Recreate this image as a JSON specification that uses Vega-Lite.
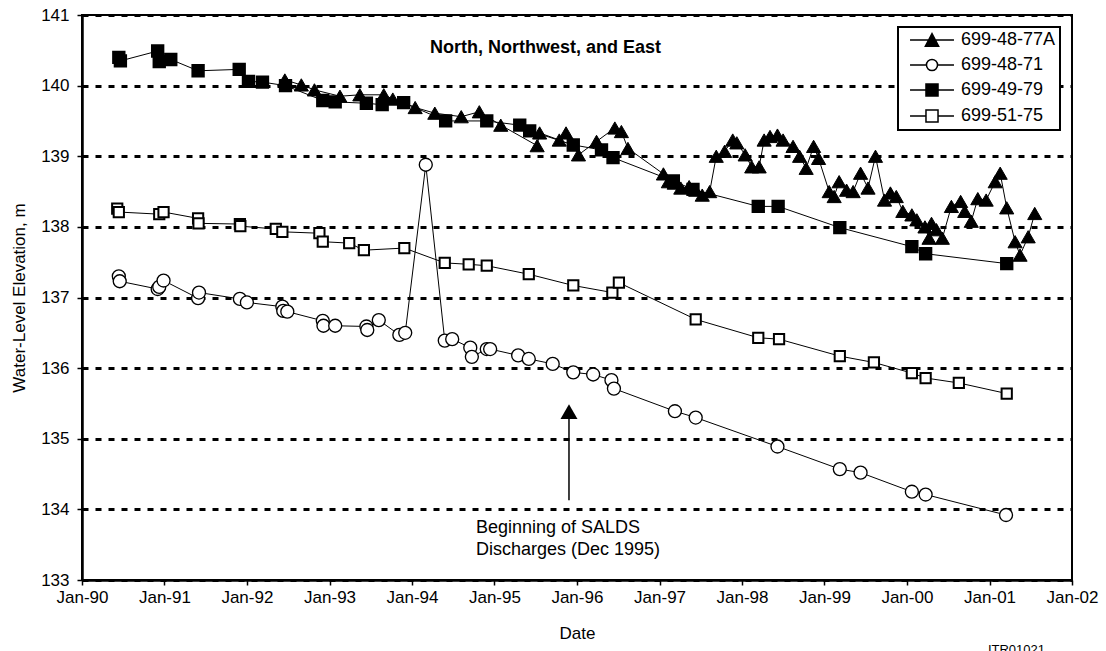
{
  "$schema": "https://vega.github.io/schema/vega-lite/v6.json",
  "width": 990,
  "height": 565,
  "autosize": {"type": "none"},
  "padding": {"left": 82, "top": 15, "right": 34, "bottom": 71},
  "background": "white",
  "title": {"text": "ITR01021", "orient": "bottom", "anchor": "end", "fontSize": 13, "fontWeight": "normal", "font": "Liberation Sans", "color": "black", "offset": 3, "dx": -53},
  "config": {
    "font": "Liberation Sans",
    "view": {"stroke": "black", "strokeWidth": 2},
    "legend": {"strokeWidth": 2},
    "axis": {"labelColor": "black", "titleColor": "black", "labelFont": "Liberation Sans", "titleFont": "Liberation Sans", "titleFontWeight": "normal", "labelFontSize": 17, "titleFontSize": 17, "domainColor": "black", "domainWidth": 2.5, "tickColor": "black", "tickWidth": 1.5, "tickSize": 5}
  },
  "resolve": {"scale": {"shape": "independent", "fill": "independent"}},
  "datasets": {
    "wells": [
      {"well": "699-48-77A", "date": "1992-06-17", "elev": 140.08},
      {"well": "699-48-77A", "date": "1992-08-29", "elev": 140.01},
      {"well": "699-48-77A", "date": "1992-10-26", "elev": 139.94},
      {"well": "699-48-77A", "date": "1993-02-16", "elev": 139.85},
      {"well": "699-48-77A", "date": "1993-05-15", "elev": 139.87},
      {"well": "699-48-77A", "date": "1993-08-29", "elev": 139.87},
      {"well": "699-48-77A", "date": "1993-10-08", "elev": 139.81},
      {"well": "699-48-77A", "date": "1994-01-15", "elev": 139.69},
      {"well": "699-48-77A", "date": "1994-04-12", "elev": 139.61},
      {"well": "699-48-77A", "date": "1994-08-07", "elev": 139.56},
      {"well": "699-48-77A", "date": "1994-10-26", "elev": 139.63},
      {"well": "699-48-77A", "date": "1995-01-29", "elev": 139.44},
      {"well": "699-48-77A", "date": "1995-07-09", "elev": 139.15},
      {"well": "699-48-77A", "date": "1995-07-20", "elev": 139.33},
      {"well": "699-48-77A", "date": "1995-10-15", "elev": 139.23},
      {"well": "699-48-77A", "date": "1995-11-14", "elev": 139.33},
      {"well": "699-48-77A", "date": "1996-01-08", "elev": 139.02},
      {"well": "699-48-77A", "date": "1996-03-28", "elev": 139.21},
      {"well": "699-48-77A", "date": "1996-06-17", "elev": 139.40},
      {"well": "699-48-77A", "date": "1996-07-16", "elev": 139.35},
      {"well": "699-48-77A", "date": "1996-08-14", "elev": 139.11},
      {"well": "699-48-77A", "date": "1997-01-18", "elev": 138.75},
      {"well": "699-48-77A", "date": "1997-02-09", "elev": 138.64},
      {"well": "699-48-77A", "date": "1997-03-07", "elev": 138.62},
      {"well": "699-48-77A", "date": "1997-04-05", "elev": 138.55},
      {"well": "699-48-77A", "date": "1997-05-12", "elev": 138.57},
      {"well": "699-48-77A", "date": "1997-06-10", "elev": 138.52},
      {"well": "699-48-77A", "date": "1997-07-09", "elev": 138.45},
      {"well": "699-48-77A", "date": "1997-08-11", "elev": 138.50},
      {"well": "699-48-77A", "date": "1997-09-09", "elev": 139.00},
      {"well": "699-48-77A", "date": "1997-10-16", "elev": 139.07},
      {"well": "699-48-77A", "date": "1997-11-21", "elev": 139.23},
      {"well": "699-48-77A", "date": "1997-12-09", "elev": 139.19},
      {"well": "699-48-77A", "date": "1998-01-15", "elev": 139.02},
      {"well": "699-48-77A", "date": "1998-02-13", "elev": 138.85},
      {"well": "699-48-77A", "date": "1998-03-18", "elev": 138.85},
      {"well": "699-48-77A", "date": "1998-04-09", "elev": 139.23},
      {"well": "699-48-77A", "date": "1998-05-05", "elev": 139.28},
      {"well": "699-48-77A", "date": "1998-06-07", "elev": 139.30},
      {"well": "699-48-77A", "date": "1998-07-02", "elev": 139.23},
      {"well": "699-48-77A", "date": "1998-08-15", "elev": 139.14},
      {"well": "699-48-77A", "date": "1998-09-13", "elev": 139.00},
      {"well": "699-48-77A", "date": "1998-10-12", "elev": 138.83},
      {"well": "699-48-77A", "date": "1998-11-14", "elev": 139.14},
      {"well": "699-48-77A", "date": "1998-12-06", "elev": 138.97},
      {"well": "699-48-77A", "date": "1999-01-22", "elev": 138.50},
      {"well": "699-48-77A", "date": "1999-02-13", "elev": 138.43},
      {"well": "699-48-77A", "date": "1999-03-07", "elev": 138.64},
      {"well": "699-48-77A", "date": "1999-04-09", "elev": 138.52},
      {"well": "699-48-77A", "date": "1999-05-08", "elev": 138.50},
      {"well": "699-48-77A", "date": "1999-06-10", "elev": 138.76},
      {"well": "699-48-77A", "date": "1999-07-13", "elev": 138.55},
      {"well": "699-48-77A", "date": "1999-08-15", "elev": 139.00},
      {"well": "699-48-77A", "date": "1999-09-24", "elev": 138.38},
      {"well": "699-48-77A", "date": "1999-10-20", "elev": 138.48},
      {"well": "699-48-77A", "date": "1999-11-15", "elev": 138.43},
      {"well": "699-48-77A", "date": "1999-12-14", "elev": 138.22},
      {"well": "699-48-77A", "date": "2000-01-23", "elev": 138.17},
      {"well": "699-48-77A", "date": "2000-02-14", "elev": 138.10},
      {"well": "699-48-77A", "date": "2000-03-21", "elev": 138.00},
      {"well": "699-48-77A", "date": "2000-04-08", "elev": 137.84},
      {"well": "699-48-77A", "date": "2000-04-19", "elev": 138.05},
      {"well": "699-48-77A", "date": "2000-05-11", "elev": 137.96},
      {"well": "699-48-77A", "date": "2000-06-06", "elev": 137.84},
      {"well": "699-48-77A", "date": "2000-07-16", "elev": 138.29},
      {"well": "699-48-77A", "date": "2000-08-26", "elev": 138.36},
      {"well": "699-48-77A", "date": "2000-09-13", "elev": 138.22},
      {"well": "699-48-77A", "date": "2000-10-12", "elev": 138.08},
      {"well": "699-48-77A", "date": "2000-11-10", "elev": 138.40},
      {"well": "699-48-77A", "date": "2000-12-17", "elev": 138.38},
      {"well": "699-48-77A", "date": "2001-01-26", "elev": 138.64},
      {"well": "699-48-77A", "date": "2001-02-17", "elev": 138.76},
      {"well": "699-48-77A", "date": "2001-03-18", "elev": 138.27},
      {"well": "699-48-77A", "date": "2001-04-24", "elev": 137.79},
      {"well": "699-48-77A", "date": "2001-05-16", "elev": 137.60},
      {"well": "699-48-77A", "date": "2001-06-21", "elev": 137.86},
      {"well": "699-48-77A", "date": "2001-07-20", "elev": 138.19},

      {"well": "699-48-71", "date": "1990-06-13", "elev": 137.30},
      {"well": "699-48-71", "date": "1990-06-17", "elev": 137.23},
      {"well": "699-48-71", "date": "1990-12-02", "elev": 137.12},
      {"well": "699-48-71", "date": "1990-12-09", "elev": 137.15},
      {"well": "699-48-71", "date": "1990-12-28", "elev": 137.24},
      {"well": "699-48-71", "date": "1991-05-30", "elev": 136.99},
      {"well": "699-48-71", "date": "1991-06-03", "elev": 137.07},
      {"well": "699-48-71", "date": "1991-12-01", "elev": 136.98},
      {"well": "699-48-71", "date": "1992-01-01", "elev": 136.93},
      {"well": "699-48-71", "date": "1992-06-06", "elev": 136.87},
      {"well": "699-48-71", "date": "1992-06-10", "elev": 136.81},
      {"well": "699-48-71", "date": "1992-06-28", "elev": 136.80},
      {"well": "699-48-71", "date": "1992-12-02", "elev": 136.67},
      {"well": "699-48-71", "date": "1992-12-05", "elev": 136.60},
      {"well": "699-48-71", "date": "1993-01-26", "elev": 136.60},
      {"well": "699-48-71", "date": "1993-06-13", "elev": 136.59},
      {"well": "699-48-71", "date": "1993-06-17", "elev": 136.54},
      {"well": "699-48-71", "date": "1993-08-07", "elev": 136.68},
      {"well": "699-48-71", "date": "1993-11-06", "elev": 136.47},
      {"well": "699-48-71", "date": "1993-12-02", "elev": 136.50},
      {"well": "699-48-71", "date": "1994-03-03", "elev": 138.88},
      {"well": "699-48-71", "date": "1994-05-26", "elev": 136.39},
      {"well": "699-48-71", "date": "1994-06-28", "elev": 136.41},
      {"well": "699-48-71", "date": "1994-09-16", "elev": 136.29},
      {"well": "699-48-71", "date": "1994-09-23", "elev": 136.16},
      {"well": "699-48-71", "date": "1994-11-28", "elev": 136.27},
      {"well": "699-48-71", "date": "1994-12-13", "elev": 136.27},
      {"well": "699-48-71", "date": "1995-04-16", "elev": 136.18},
      {"well": "699-48-71", "date": "1995-06-02", "elev": 136.13},
      {"well": "699-48-71", "date": "1995-09-16", "elev": 136.06},
      {"well": "699-48-71", "date": "1995-12-16", "elev": 135.94},
      {"well": "699-48-71", "date": "1996-03-13", "elev": 135.91},
      {"well": "699-48-71", "date": "1996-06-02", "elev": 135.83},
      {"well": "699-48-71", "date": "1996-06-13", "elev": 135.71},
      {"well": "699-48-71", "date": "1997-03-10", "elev": 135.39},
      {"well": "699-48-71", "date": "1997-06-10", "elev": 135.30},
      {"well": "699-48-71", "date": "1998-06-07", "elev": 134.89},
      {"well": "699-48-71", "date": "1999-03-10", "elev": 134.57},
      {"well": "699-48-71", "date": "1999-06-10", "elev": 134.52},
      {"well": "699-48-71", "date": "2000-01-23", "elev": 134.25},
      {"well": "699-48-71", "date": "2000-03-24", "elev": 134.21},
      {"well": "699-48-71", "date": "2001-03-15", "elev": 133.92},

      {"well": "699-49-79", "date": "1990-06-13", "elev": 140.40},
      {"well": "699-49-79", "date": "1990-06-20", "elev": 140.35},
      {"well": "699-49-79", "date": "1990-12-02", "elev": 140.49},
      {"well": "699-49-79", "date": "1990-12-09", "elev": 140.34},
      {"well": "699-49-79", "date": "1991-01-29", "elev": 140.37},
      {"well": "699-49-79", "date": "1991-05-30", "elev": 140.21},
      {"well": "699-49-79", "date": "1991-11-28", "elev": 140.23},
      {"well": "699-49-79", "date": "1992-01-08", "elev": 140.06},
      {"well": "699-49-79", "date": "1992-03-10", "elev": 140.05},
      {"well": "699-49-79", "date": "1992-06-20", "elev": 140.00},
      {"well": "699-49-79", "date": "1992-12-02", "elev": 139.79},
      {"well": "699-49-79", "date": "1993-01-26", "elev": 139.77},
      {"well": "699-49-79", "date": "1993-06-13", "elev": 139.75},
      {"well": "699-49-79", "date": "1993-08-22", "elev": 139.73},
      {"well": "699-49-79", "date": "1993-11-25", "elev": 139.76},
      {"well": "699-49-79", "date": "1994-05-30", "elev": 139.50},
      {"well": "699-49-79", "date": "1994-11-28", "elev": 139.50},
      {"well": "699-49-79", "date": "1995-04-23", "elev": 139.44},
      {"well": "699-49-79", "date": "1995-06-06", "elev": 139.36},
      {"well": "699-49-79", "date": "1995-12-16", "elev": 139.16},
      {"well": "699-49-79", "date": "1996-04-19", "elev": 139.09},
      {"well": "699-49-79", "date": "1996-06-09", "elev": 138.98},
      {"well": "699-49-79", "date": "1997-03-03", "elev": 138.65},
      {"well": "699-49-79", "date": "1997-05-29", "elev": 138.53},
      {"well": "699-49-79", "date": "1998-03-14", "elev": 138.29},
      {"well": "699-49-79", "date": "1998-06-10", "elev": 138.29},
      {"well": "699-49-79", "date": "1999-03-10", "elev": 137.99},
      {"well": "699-49-79", "date": "2000-01-23", "elev": 137.72},
      {"well": "699-49-79", "date": "2000-03-24", "elev": 137.62},
      {"well": "699-49-79", "date": "2001-03-18", "elev": 137.48},

      {"well": "699-51-75", "date": "1990-06-06", "elev": 138.26},
      {"well": "699-51-75", "date": "1990-06-13", "elev": 138.21},
      {"well": "699-51-75", "date": "1990-12-09", "elev": 138.18},
      {"well": "699-51-75", "date": "1990-12-28", "elev": 138.21},
      {"well": "699-51-75", "date": "1991-05-30", "elev": 138.12},
      {"well": "699-51-75", "date": "1991-06-01", "elev": 138.05},
      {"well": "699-51-75", "date": "1991-12-01", "elev": 138.04},
      {"well": "699-51-75", "date": "1991-12-03", "elev": 138.01},
      {"well": "699-51-75", "date": "1992-05-08", "elev": 137.97},
      {"well": "699-51-75", "date": "1992-06-06", "elev": 137.93},
      {"well": "699-51-75", "date": "1992-11-17", "elev": 137.91},
      {"well": "699-51-75", "date": "1992-12-02", "elev": 137.79},
      {"well": "699-51-75", "date": "1993-03-29", "elev": 137.77},
      {"well": "699-51-75", "date": "1993-06-02", "elev": 137.67},
      {"well": "699-51-75", "date": "1993-11-28", "elev": 137.70},
      {"well": "699-51-75", "date": "1994-05-26", "elev": 137.49},
      {"well": "699-51-75", "date": "1994-09-09", "elev": 137.47},
      {"well": "699-51-75", "date": "1994-11-28", "elev": 137.45},
      {"well": "699-51-75", "date": "1995-06-02", "elev": 137.33},
      {"well": "699-51-75", "date": "1995-12-16", "elev": 137.17},
      {"well": "699-51-75", "date": "1996-06-06", "elev": 137.07},
      {"well": "699-51-75", "date": "1996-07-05", "elev": 137.21},
      {"well": "699-51-75", "date": "1997-06-10", "elev": 136.69},
      {"well": "699-51-75", "date": "1998-03-14", "elev": 136.43},
      {"well": "699-51-75", "date": "1998-06-14", "elev": 136.41},
      {"well": "699-51-75", "date": "1999-03-10", "elev": 136.17},
      {"well": "699-51-75", "date": "1999-08-08", "elev": 136.08},
      {"well": "699-51-75", "date": "2000-01-23", "elev": 135.93},
      {"well": "699-51-75", "date": "2000-03-24", "elev": 135.86},
      {"well": "699-51-75", "date": "2000-08-18", "elev": 135.79},
      {"well": "699-51-75", "date": "2001-03-18", "elev": 135.64}
    ]
  },
  "layer": [
    {
      "data": {"name": "wells"},
      "mark": {"type": "line", "color": "black", "strokeWidth": 1},
      "encoding": {
        "x": {
          "field": "date", "type": "temporal",
          "scale": {"type": "utc", "domain": [{"year": 1990, "month": 1, "date": 1, "utc": true}, {"year": 2002, "month": 1, "date": 1, "utc": true}]},
          "axis": {
            "title": "Date", "labelExpr": "utcFormat(datum.value, '%b-%y')", "grid": false,
            "values": [
              {"year": 1990, "month": 1, "date": 1, "utc": true},
              {"year": 1991, "month": 1, "date": 1, "utc": true},
              {"year": 1992, "month": 1, "date": 1, "utc": true},
              {"year": 1993, "month": 1, "date": 1, "utc": true},
              {"year": 1994, "month": 1, "date": 1, "utc": true},
              {"year": 1995, "month": 1, "date": 1, "utc": true},
              {"year": 1996, "month": 1, "date": 1, "utc": true},
              {"year": 1997, "month": 1, "date": 1, "utc": true},
              {"year": 1998, "month": 1, "date": 1, "utc": true},
              {"year": 1999, "month": 1, "date": 1, "utc": true},
              {"year": 2000, "month": 1, "date": 1, "utc": true},
              {"year": 2001, "month": 1, "date": 1, "utc": true},
              {"year": 2002, "month": 1, "date": 1, "utc": true}
            ],
            "labelPadding": 4, "titlePadding": 20, "labelFlush": false, "labelOverlap": false
          }
        },
        "y": {
          "field": "elev", "type": "quantitative",
          "scale": {"domain": [133, 141], "zero": false, "nice": false},
          "axis": {
            "title": "Water-Level Elevation, m", "values": [133, 134, 135, 136, 137, 138, 139, 140, 141], "format": "d",
            "grid": true, "gridColor": "black", "gridWidth": 3, "gridDash": [6, 7], "gridOpacity": 1,
            "labelPadding": 8, "titlePadding": 12, "labelFlush": false
          }
        },
        "detail": {"field": "well"}
      }
    },
    {
      "data": {"name": "wells"},
      "mark": {"type": "point", "filled": true, "stroke": "black", "opacity": 1},
      "encoding": {
        "x": {"field": "date", "type": "temporal"},
        "y": {"field": "elev", "type": "quantitative"},
        "shape": {
          "field": "well", "type": "nominal",
          "scale": {"domain": ["699-48-77A", "699-48-71", "699-49-79", "699-51-75"], "range": ["triangle-up", "circle", "square", "square"]},
          "legend": null
        },
        "fill": {
          "field": "well", "type": "nominal",
          "scale": {"domain": ["699-48-77A", "699-48-71", "699-49-79", "699-51-75"], "range": ["black", "white", "black", "white"]},
          "legend": null
        },
        "size": {
          "field": "well", "type": "nominal",
          "scale": {"domain": ["699-48-77A", "699-48-71", "699-49-79", "699-51-75"], "range": [200, 105, 135, 100]},
          "legend": null
        },
        "strokeWidth": {
          "field": "well", "type": "nominal",
          "scale": {"domain": ["699-48-77A", "699-48-71", "699-49-79", "699-51-75"], "range": [1, 2, 1, 2]},
          "legend": null
        }
      }
    },
    {
      "data": {"name": "wells"},
      "transform": [{"filter": "false"}],
      "mark": {"type": "point", "filled": false, "stroke": "black", "strokeWidth": 1.5, "opacity": 1},
      "encoding": {
        "x": {"field": "date", "type": "temporal"},
        "y": {"field": "elev", "type": "quantitative"},
        "fill": {
          "field": "well", "type": "nominal",
          "scale": {"domain": ["699-48-77A", "699-48-71", "699-49-79", "699-51-75"], "range": ["black", "white", "black", "white"]},
          "legend": {
            "title": null, "orient": "none", "legendX": 816, "legendY": 12, "padding": 4,
            "strokeColor": "black", "fillColor": "white",
            "labelFontSize": 18, "labelFont": "Liberation Sans", "labelColor": "black",
            "symbolSize": 196, "symbolStrokeWidth": 1.5,
            "symbolOffset": 21, "labelOffset": 20, "rowPadding": 6
          }
        },
        "shape": {
          "field": "well", "type": "nominal",
          "scale": {"domain": ["699-48-77A", "699-48-71", "699-49-79", "699-51-75"], "range": [
            "M-3.14,0H3.14M0,-0.9L0.95,0.9H-0.95Z",
            "M-3.14,0H-0.79M0.79,0H3.14M-0.79,0A0.79 0.79 0 1 0 0.79,0A0.79 0.79 0 1 0 -0.79,0Z",
            "M-3.14,0H3.14M-0.86,-0.86H0.86V0.86H-0.86Z",
            "M-3.14,0H-0.86M0.86,0H3.14M-0.86,-0.86H0.86V0.86H-0.86Z"
          ]},
          "legend": {
            "title": null, "orient": "none", "legendX": 816, "legendY": 12, "padding": 4,
            "strokeColor": "black", "fillColor": "white",
            "labelFontSize": 18, "labelFont": "Liberation Sans", "labelColor": "black",
            "symbolSize": 196, "symbolStrokeWidth": 1.5,
            "symbolOffset": 21, "labelOffset": 20, "rowPadding": 6
          }
        }
      }
    },
    {
      "data": {"values": [{"date": "1995-11-27", "elev": 134.13, "elev2": 135.3}]},
      "mark": {"type": "rule", "color": "black", "strokeWidth": 1.5},
      "encoding": {
        "x": {"field": "date", "type": "temporal"},
        "y": {"field": "elev", "type": "quantitative"},
        "y2": {"field": "elev2"}
      }
    },
    {
      "data": {"values": [{"date": "1995-11-27", "elev": 135.384}]},
      "mark": {"type": "point", "shape": "triangle-up", "filled": true, "color": "black", "size": 289, "opacity": 1},
      "encoding": {
        "x": {"field": "date", "type": "temporal"},
        "y": {"field": "elev", "type": "quantitative"}
      }
    },
    {
      "data": {"values": [{"date": "1994-10-11", "elev": 133.67, "label": "Beginning of SALDS\nDischarges (Dec 1995)"}]},
      "mark": {"type": "text", "align": "left", "baseline": "alphabetic", "fontSize": 18, "font": "Liberation Sans", "color": "black", "lineBreak": "\n", "lineHeight": 22.5},
      "encoding": {
        "x": {"field": "date", "type": "temporal"},
        "y": {"field": "elev", "type": "quantitative"},
        "text": {"field": "label"}
      }
    },
    {
      "data": {"values": [{"date": "1995-08-15", "elev": 140.46, "label": "North, Northwest, and East"}]},
      "mark": {"type": "text", "align": "center", "baseline": "alphabetic", "fontSize": 18, "fontWeight": "bold", "font": "Liberation Sans", "color": "black"},
      "encoding": {
        "x": {"field": "date", "type": "temporal"},
        "y": {"field": "elev", "type": "quantitative"},
        "text": {"field": "label"}
      }
    }
  ]
}
